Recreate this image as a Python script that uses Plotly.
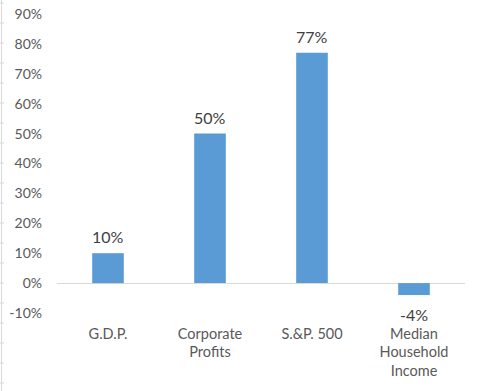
import plotly.graph_objects as go

categories = ["G.D.P.", "Corporate<br>Profits", "S.&P. 500", "Median<br>Household<br>Income"]
values = [10, 50, 77, -4]
labels = ["10%", "50%", "77%", "-4%"]
tick_vals = [-10, 0, 10, 20, 30, 40, 50, 60, 70, 80, 90]
tick_text = ["-10%", "0%", "10%", "20%", "30%", "40%", "50%", "60%", "70%", "80%", "90%"]

FONT = "Lato, 'Open Sans', sans-serif"
GREY = "#595959"

fig = go.Figure()
fig.add_trace(go.Bar(
    x=categories, y=values,
    marker=dict(color="#5B9BD5", line=dict(width=0)),
    cliponaxis=False,
))

for c, v, t in zip(categories, values, labels):
    fig.add_annotation(
        x=c, y=v, text=t, showarrow=False,
        yanchor="bottom" if v >= 0 else "top",
        yshift=5 if v >= 0 else -8,
        font=dict(family=FONT, size=16, color="#404040"),
    )

W, H = 480, 391
ml, mr, mt, mb = 57, 15, 14, 78
pw = W - ml - mr
ph = H - mt - mb

fig.update_layout(
    width=W, height=H,
    margin=dict(l=ml, r=mr, t=mt, b=mb, pad=0, autoexpand=False),
    paper_bgcolor="white", plot_bgcolor="white",
    bargap=0.69, showlegend=False,
    font=dict(family=FONT, color=GREY, size=14),
)
fig.update_xaxes(
    showgrid=False, showline=False, zeroline=False, ticks="",
    tickfont=dict(family=FONT, size=14.5, color=GREY),
    ticklabelstandoff=10, automargin=False,
)
fig.update_yaxes(
    range=[-10, 90], tickvals=tick_vals, ticktext=tick_text,
    showgrid=False, showline=False, zeroline=True, zerolinecolor="#D9D9D9", zerolinewidth=1,
    tickfont=dict(family=FONT, size=14, color=GREY),
    ticklabelstandoff=14, automargin=False,
)

# left border artifact (spreadsheet cell edge)
px = lambda x: (x - ml) / pw
py = lambda y: (H - mb - y) / ph
fig.add_shape(type="line", xref="paper", yref="paper", x0=px(1.5), x1=px(1.5), y0=py(0), y1=py(391),
              line=dict(color="#D9D9D9", width=1))
for yy in range(3, 391, 20):
    fig.add_shape(type="line", xref="paper", yref="paper", x0=px(0), x1=px(4), y0=py(yy), y1=py(yy),
                  line=dict(color="#D9D9D9", width=1))

fig.write_html("out.html", config={"displayModeBar": False},
               post_script="document.body.style.margin='0';document.body.style.overflow='hidden';")
